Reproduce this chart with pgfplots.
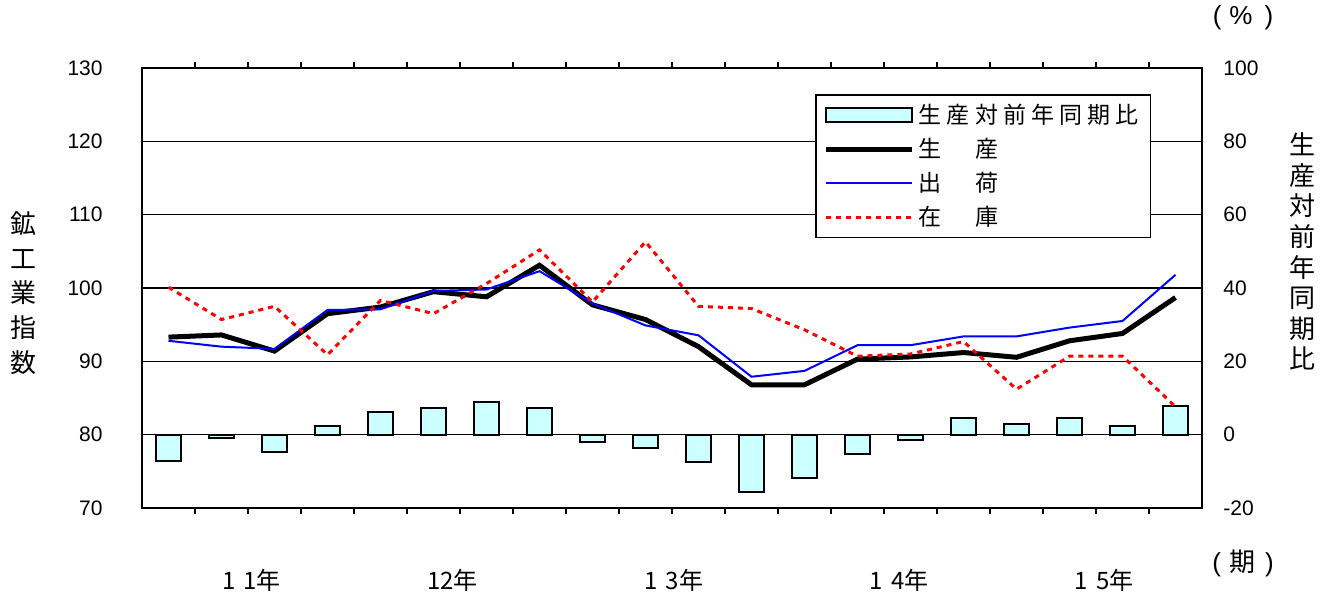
\documentclass[border=0pt]{standalone}
\usepackage{fontspec}
\setmainfont{Liberation Sans}
\newfontfamily\cjk[LetterSpace=22]{Noto Sans CJK JP}
\newfontfamily\cjkn{Noto Sans CJK JP}
\usepackage{pgfplots}
\pgfplotsset{compat=1.18}
\definecolor{barfill}{HTML}{CCFFFF}
\definecolor{invred}{HTML}{FF0000}
\definecolor{shipblue}{HTML}{0000FF}
\pgfplotsset{
  linelegend/.style={legend image code/.code={\draw[##1] (0pt,0pt) -- (43pt,0pt);}},
  barlegend/.style={legend image code/.code={\draw[fill=barfill, draw=black, line width=1pt] (0pt,-3.5pt) rectangle (43pt,3.5pt);}},
}

\begin{document}
\begin{tikzpicture}
\useasboundingbox (-71pt,-45.5pt) rectangle (595.5pt,254pt);
% bars on right axis
\begin{axis}[
  at={(0pt,0pt)}, anchor=south west,
  width=530pt, height=220pt, scale only axis,
  xmin=0.5, xmax=20.5,
  ymin=-20, ymax=100,
  xtick={1.5,2.5,...,19.5}, xticklabels={},
  tick align=inside, major tick length=3pt,
  ytick={-20,0,20,40,60,80,100},
  yticklabels={-20,0,20,40,60,80,100},
  yticklabel pos=right,
  ytick style={draw=none},
  yticklabel style={font=\fontsize{10.5}{12}\selectfont, anchor=west, inner sep=0pt, xshift=10.5pt},
  ymajorgrids, major grid style={black, line width=0.65pt},
  axis line style={line width=1pt},
  xtick style={black, line width=0.8pt},
  ybar, bar width=12.5pt,
]
\addplot[fill=barfill, draw=black, line width=1pt] coordinates {
(1,-7.3) (2,-0.9) (3,-4.6) (4,2.4) (5,6.2) (6,7.3) (7,8.9) (8,7.3) (9,-1.9) (10,-3.6)
(11,-7.4) (12,-15.6) (13,-11.9) (14,-5.2) (15,-1.4) (16,4.6) (17,3.0) (18,4.6) (19,2.4) (20,7.9)};
\end{axis}
% lines on left axis
\begin{axis}[
  at={(0pt,0pt)}, anchor=south west,
  width=530pt, height=220pt, scale only axis,
  xmin=0.5, xmax=20.5,
  ymin=70, ymax=130,
  axis y line*=left, axis x line=none,
  axis line style={line width=1pt},
  ytick={70,80,...,130},
  yticklabels={70,80,90,100,110,120,130},
  ytick style={draw=none},
  yticklabel style={font=\fontsize{10.5}{12}\selectfont, anchor=east, inner sep=0pt, xshift=-19.5pt},
  legend style={at={(0.635,0.94)}, anchor=north west, draw=black, line width=0.8pt,
    font=\cjk\fontsize{11.5}{13}\selectfont, inner xsep=4pt, inner ysep=2.5pt,
    row sep=1.8pt, cells={anchor=west}},
]
\addlegendimage{barlegend}
\addlegendentry{生産対前年同期比}
\addplot[black, line width=2.5pt, linelegend] coordinates {
(1,93.3) (2,93.6) (3,91.4) (4,96.5) (5,97.4) (6,99.5) (7,98.8) (8,103.1) (9,97.7) (10,95.7)
(11,92.0) (12,86.8) (13,86.8) (14,90.3) (15,90.6) (16,91.2) (17,90.55) (18,92.8) (19,93.8) (20,98.7)};
\addlegendentry{生　産}
\addplot[shipblue, line width=1pt, linelegend] coordinates {
(1,92.8) (2,92.0) (3,91.7) (4,97.0) (5,97.1) (6,99.6) (7,99.8) (8,102.3) (9,97.9) (10,94.9)
(11,93.55) (12,87.9) (13,88.7) (14,92.2) (15,92.2) (16,93.4) (17,93.4) (18,94.6) (19,95.5) (20,101.8)};
\addlegendentry{出　荷}
\addplot[invred, line width=1.5pt, dash pattern=on 2.5pt off 2.5pt, linelegend] coordinates {
(1,100.1) (2,95.7) (3,97.5) (4,90.9) (5,98.3) (6,96.5) (7,100.6) (8,105.2) (9,98.1) (10,106.3)
(11,97.5) (12,97.2) (13,94.3) (14,90.7) (15,91.0) (16,92.7) (17,86.2) (18,90.7) (19,90.7) (20,83.8)};
\addlegendentry{在　庫}
\end{axis}
% labels
\node[align=center, font=\cjkn\fontsize{13}{17.3}\selectfont] at (-59pt,107.5pt) {鉱\\工\\業\\指\\数};
\node[align=center, font=\cjkn\fontsize{13}{15.3}\selectfont] at (580pt,128.2pt) {生\\産\\対\\前\\年\\同\\期\\比};
\node[font=\fontsize{13}{15}\selectfont] at (550.5pt,245pt) {(\hspace{4pt}\%\hspace{6pt})};
\node[font=\fontsize{13}{15}\selectfont] at (550.5pt,-27.5pt) {(\hspace{4pt}{\cjkn 期}\hspace{5pt})};
\node[font=\cjkn\fontsize{12}{14}\selectfont] at (54.8pt,-36pt) {1\hspace{4pt}1年};
\node[font=\cjkn\fontsize{12}{14}\selectfont] at (155.2pt,-36pt) {12年};
\node[font=\cjkn\fontsize{12}{14}\selectfont] at (266pt,-36pt) {1\hspace{4pt}3年};
\node[font=\cjkn\fontsize{12}{14}\selectfont] at (378.5pt,-36pt) {1\hspace{4pt}4年};
\node[font=\cjkn\fontsize{12}{14}\selectfont] at (481pt,-36pt) {1\hspace{4pt}5年};
\end{tikzpicture}
\end{document}
